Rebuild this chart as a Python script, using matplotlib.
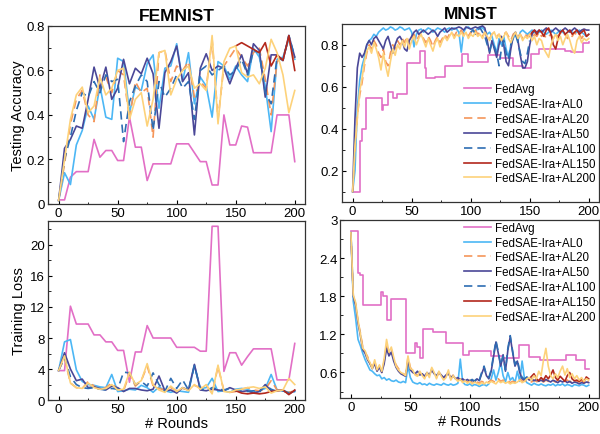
import numpy as np
import matplotlib
matplotlib.use("Agg")
import matplotlib.pyplot as plt
from matplotlib.ticker import AutoMinorLocator, MultipleLocator

plt.rcParams['font.family'] = ['Liberation Sans', 'DejaVu Sans']

labels = ["FedAvg", "FedSAE-Ira+AL0", "FedSAE-Ira+AL20", "FedSAE-Ira+AL50",
          "FedSAE-Ira+AL100", "FedSAE-Ira+AL150", "FedSAE-Ira+AL200"]
colors = ["#e26fc6", "#4cb7f5", "#f5965a", "#4a4797", "#2e6db3", "#b3281c", "#fdd27a"]
styles = ["-", "-", (0, (5, 3)), "-", (0, (5, 3)), "-", "-"]

# ---------------- FEMNIST (every 5 rounds) ----------------
fem_x = list(range(0, 201, 5))
fem_x_late = list(range(150, 201, 5))

fem_acc_fedavg = [0.018, 0.018, 0.12, 0.145, 0.145, 0.145, 0.29, 0.21, 0.24, 0.24, 0.195,
                  0.195, 0.39, 0.255, 0.255, 0.105, 0.18, 0.18, 0.18, 0.18, 0.27, 0.27,
                  0.27, 0.23, 0.19, 0.19, 0.085, 0.085, 0.40, 0.265, 0.265, 0.35, 0.345,
                  0.23, 0.23, 0.23, 0.23, 0.40, 0.40, 0.40, 0.19]
fem_acc_al0 = [0.015, 0.14, 0.087, 0.265, 0.33, 0.44, 0.38, 0.53, 0.39, 0.38, 0.655,
               0.64, 0.41, 0.525, 0.51, 0.63, 0.67, 0.43, 0.61, 0.62, 0.72, 0.55, 0.68,
               0.45, 0.57, 0.53, 0.39, 0.64, 0.62, 0.56, 0.62, 0.58, 0.55, 0.70, 0.66,
               0.53, 0.325, 0.65, 0.66, 0.74, 0.65]
fem_acc_al20 = [0.015, 0.18, 0.36, 0.47, 0.51, 0.40, 0.37, 0.58, 0.57, 0.50, 0.60,
                0.58, 0.38, 0.55, 0.50, 0.52, 0.30, 0.68, 0.69, 0.55, 0.62, 0.60, 0.64,
                0.48, 0.55, 0.52, 0.74, 0.38, 0.62, 0.66, 0.70, 0.66, 0.62, 0.68, 0.70,
                0.56, 0.40, 0.64, 0.66, 0.74, 0.64]
fem_acc_al50 = [0.015, 0.25, 0.29, 0.35, 0.34, 0.47, 0.615, 0.52, 0.615, 0.47, 0.52,
                0.65, 0.54, 0.61, 0.585, 0.655, 0.585, 0.34, 0.59, 0.64, 0.71, 0.55, 0.59,
                0.31, 0.61, 0.675, 0.60, 0.62, 0.61, 0.54, 0.61, 0.67, 0.585, 0.72, 0.69,
                0.48, 0.67, 0.67, 0.645, 0.757, 0.66]
fem_acc_al100 = [0.015, 0.20, 0.30, 0.42, 0.50, 0.48, 0.55, 0.50, 0.58, 0.55, 0.56,
                 0.28, 0.46, 0.53, 0.58, 0.55, 0.33, 0.55, 0.48, 0.52, 0.58, 0.52, 0.55,
                 0.38, 0.60, 0.62, 0.58, 0.60, 0.62, 0.58, 0.60, 0.65, 0.58, 0.69, 0.68,
                 0.50, 0.45, 0.66, 0.645, 0.757, 0.66]
fem_acc_al150 = [0.71, 0.725, 0.71, 0.695, 0.68, 0.725, 0.62, 0.67, 0.645, 0.757, 0.60]
fem_acc_al200 = [0.015, 0.20, 0.38, 0.49, 0.525, 0.41, 0.44, 0.57, 0.49, 0.52, 0.60,
                 0.61, 0.38, 0.47, 0.50, 0.35, 0.47, 0.68, 0.69, 0.49, 0.56, 0.60, 0.62,
                 0.52, 0.54, 0.51, 0.757, 0.36, 0.64, 0.70, 0.71, 0.59, 0.57, 0.58, 0.54,
                 0.61, 0.74, 0.68, 0.58, 0.41, 0.51]

fem_loss_fedavg = [3.8, 3.8, 12.1, 9.8, 9.8, 9.8, 8.4, 8.4, 7.5, 7.5, 6.4, 6.4, 2.3, 6.2,
                   6.2, 9.6, 8.0, 8.0, 8.0, 8.0, 6.8, 6.8, 6.8, 6.8, 6.3, 6.3, 22.4, 22.4,
                   3.7, 6.1, 6.1, 4.5, 5.6, 6.6, 6.6, 6.6, 6.6, 2.6, 2.6, 2.6, 7.3]
fem_loss_al0 = [3.8, 7.5, 7.8, 3.9, 2.4, 2.0, 1.9, 1.7, 1.6, 3.3, 1.1, 1.2, 1.4, 1.3,
                1.9, 1.6, 1.0, 1.7, 1.2, 1.0, 1.2, 1.1, 1.0, 4.5, 1.5, 1.6, 2.8, 1.1,
                1.2, 1.0, 1.4, 1.5, 1.4, 1.0, 1.2, 1.5, 3.3, 1.3, 1.2, 1.0, 1.1]
fem_loss_al20 = [3.8, 5.4, 2.2, 1.6, 1.5, 2.4, 1.8, 1.3, 1.6, 2.2, 1.4, 1.2, 3.4, 1.8,
                 2.5, 4.4, 1.8, 1.5, 1.3, 1.6, 1.2, 1.5, 1.3, 1.9, 1.6, 1.9, 0.9, 4.3,
                 1.2, 1.0, 1.1, 1.4, 1.6, 1.3, 1.2, 1.4, 2.5, 1.3, 1.1, 1.0, 1.2]
fem_loss_al50 = [3.8, 6.1, 4.0, 2.5, 2.7, 1.6, 1.7, 1.5, 1.3, 1.8, 1.6, 1.1, 1.5, 1.5,
                 1.3, 1.2, 1.4, 3.1, 1.2, 1.3, 0.9, 1.6, 1.3, 4.6, 1.3, 1.2, 1.4, 1.3,
                 1.2, 1.6, 1.3, 1.1, 1.2, 0.9, 1.1, 2.0, 1.2, 1.2, 1.3, 0.8, 1.2]
fem_loss_al100 = [3.8, 5.5, 3.0, 2.0, 1.6, 1.5, 1.6, 1.4, 1.3, 1.5, 1.4, 3.6, 3.5, 2.0,
                  2.4, 1.8, 3.5, 2.0, 1.1, 2.8, 1.5, 2.6, 1.3, 4.4, 1.5, 1.2, 1.6, 1.4,
                  1.3, 1.5, 1.2, 1.3, 1.1, 1.2, 1.0, 1.9, 1.4, 1.1, 1.2, 0.9, 1.1]
fem_loss_al150 = [1.2, 0.9, 0.8, 0.9, 0.8, 0.9, 1.1, 1.2, 1.3, 0.7, 1.3]
fem_loss_al200 = [3.8, 5.7, 2.2, 1.6, 1.5, 2.2, 1.6, 1.4, 1.5, 2.0, 1.3, 1.4, 3.6, 2.0,
                  2.5, 4.7, 2.0, 1.3, 1.0, 1.8, 1.1, 1.6, 1.2, 2.0, 1.4, 2.0, 0.8, 4.5,
                  1.1, 1.0, 1.3, 1.4, 1.6, 1.7, 1.5, 1.7, 0.9, 1.2, 1.3, 2.8, 2.0]

# ---------------- MNIST (every 2 rounds) ----------------
mn_x = list(range(0, 201, 2))
mn_x_mid = list(range(100, 151, 2))
mn_x_late = list(range(150, 201, 2))

# FedAvg is piecewise constant: change points and levels
mn_acc_fedavg_x = [0, 6, 8, 11, 25, 26, 30, 34, 38, 46, 57, 61, 62, 70, 78, 93, 98, 115,
                   125, 136, 144, 151, 158, 180, 185, 195, 200]
mn_acc_fedavg = [0.10, 0.34, 0.40, 0.545, 0.49, 0.515, 0.575, 0.545, 0.565, 0.715, 0.77,
                 0.69, 0.64, 0.645, 0.70, 0.757, 0.72, 0.75, 0.735, 0.70, 0.687, 0.757,
                 0.78, 0.77, 0.765, 0.81, 0.815]

mn_acc_al0 = [0.10, 0.20, 0.50, 0.63, 0.70, 0.74, 0.80, 0.82, 0.83, 0.85,
              0.84, 0.86, 0.87, 0.88, 0.87, 0.875, 0.885, 0.88, 0.87, 0.875,
              0.885, 0.88, 0.87, 0.875, 0.88, 0.86, 0.79, 0.85, 0.87, 0.875,
              0.86, 0.87, 0.88, 0.875, 0.86, 0.87, 0.88, 0.875, 0.87, 0.86,
              0.875, 0.88, 0.87, 0.88, 0.875, 0.86, 0.765, 0.86, 0.88, 0.885,
              0.875, 0.87, 0.86, 0.88, 0.885, 0.88, 0.87, 0.85, 0.86, 0.84,
              0.80, 0.76, 0.83, 0.80, 0.84, 0.78, 0.74, 0.80, 0.83, 0.85,
              0.82, 0.86, 0.87, 0.86, 0.85, 0.86, 0.87, 0.86, 0.85, 0.86,
              0.87, 0.86, 0.85, 0.86, 0.87, 0.86, 0.85, 0.86, 0.87, 0.86,
              0.85, 0.86, 0.87, 0.86, 0.855, 0.86, 0.87, 0.86, 0.85, 0.84, 0.85]
mn_acc_al20 = [0.10, 0.30, 0.46, 0.56, 0.62, 0.70, 0.76, 0.80, 0.78, 0.82,
               0.80, 0.76, 0.74, 0.78, 0.72, 0.70, 0.76, 0.80, 0.78, 0.82,
               0.80, 0.83, 0.81, 0.84, 0.80, 0.83, 0.85, 0.82, 0.84, 0.86,
               0.83, 0.81, 0.84, 0.82, 0.79, 0.82, 0.84, 0.81, 0.83, 0.85,
               0.83, 0.85, 0.86, 0.84, 0.86, 0.85, 0.87, 0.85, 0.86, 0.84,
               0.86, 0.85, 0.87, 0.85, 0.86, 0.84, 0.86, 0.85, 0.83, 0.85,
               0.86, 0.84, 0.85, 0.83, 0.85, 0.86, 0.84, 0.82, 0.85, 0.86,
               0.84, 0.85, 0.83, 0.85, 0.84, 0.85, 0.83, 0.85, 0.84, 0.86,
               0.84, 0.85, 0.83, 0.84, 0.85, 0.83, 0.85, 0.84, 0.86, 0.84,
               0.85, 0.83, 0.85, 0.84, 0.86, 0.84, 0.85, 0.83, 0.85, 0.84, 0.85]
mn_acc_al50 = [0.10, 0.45, 0.69, 0.76, 0.74, 0.76, 0.80, 0.82, 0.80, 0.83,
               0.84, 0.82, 0.80, 0.78, 0.82, 0.84, 0.80, 0.76, 0.80, 0.83,
               0.84, 0.82, 0.78, 0.77, 0.82, 0.84, 0.86, 0.87, 0.85, 0.86,
               0.87, 0.86, 0.85, 0.86, 0.87, 0.86, 0.84, 0.86, 0.87, 0.88,
               0.86, 0.87, 0.88, 0.875, 0.88, 0.885, 0.88, 0.87, 0.885, 0.88,
               0.875, 0.88, 0.885, 0.88, 0.885, 0.89, 0.88, 0.82, 0.76, 0.82,
               0.78, 0.74, 0.80, 0.84, 0.80, 0.72, 0.70, 0.78, 0.84, 0.86,
               0.82, 0.75, 0.69, 0.69, 0.72, 0.80, 0.85, 0.87, 0.86, 0.87,
               0.86, 0.87, 0.88, 0.87, 0.86, 0.87, 0.88, 0.87, 0.86, 0.87,
               0.88, 0.87, 0.86, 0.87, 0.88, 0.87, 0.86, 0.87, 0.875, 0.87, 0.87]
mn_acc_al100 = [0.86, 0.87, 0.85, 0.87, 0.88, 0.86, 0.84, 0.80, 0.77, 0.81,
                0.79, 0.76, 0.70, 0.78, 0.82, 0.76, 0.73, 0.80, 0.84, 0.85,
                0.81, 0.76, 0.72, 0.71, 0.76, 0.82]
mn_acc_al150 = [0.84, 0.86, 0.87, 0.85, 0.87, 0.86, 0.84, 0.87, 0.88, 0.85,
                0.80, 0.78, 0.83, 0.86, 0.87, 0.85, 0.86, 0.87, 0.85, 0.86,
                0.87, 0.85, 0.86, 0.87, 0.84, 0.85]
mn_acc_al200 = [0.10, 0.32, 0.45, 0.58, 0.64, 0.72, 0.77, 0.79, 0.76, 0.81,
                0.78, 0.74, 0.68, 0.76, 0.70, 0.65, 0.72, 0.78, 0.75, 0.80,
                0.78, 0.82, 0.79, 0.83, 0.78, 0.82, 0.84, 0.80, 0.83, 0.85,
                0.82, 0.79, 0.83, 0.80, 0.77, 0.81, 0.83, 0.79, 0.82, 0.84,
                0.82, 0.84, 0.86, 0.83, 0.85, 0.84, 0.86, 0.84, 0.86, 0.83,
                0.85, 0.84, 0.86, 0.84, 0.85, 0.83, 0.86, 0.84, 0.82, 0.85,
                0.86, 0.83, 0.85, 0.82, 0.84, 0.86, 0.83, 0.81, 0.84, 0.86,
                0.83, 0.85, 0.82, 0.84, 0.83, 0.85, 0.82, 0.84, 0.80, 0.83,
                0.82, 0.78, 0.76, 0.74, 0.80, 0.83, 0.85, 0.82, 0.84, 0.80,
                0.83, 0.85, 0.82, 0.78, 0.76, 0.82, 0.84, 0.81, 0.83, 0.82, 0.83]

mn_loss_fedavg_x = [0, 6, 8, 10, 25, 27, 30, 34, 46, 54, 56, 58, 61, 69, 80, 94, 99, 118,
                    128, 141, 150, 159, 181, 189, 197, 200]
mn_loss_fedavg = [2.82, 2.17, 2.14, 1.66, 1.86, 1.80, 1.43, 1.75, 0.90, 1.06, 1.00, 0.82,
                  1.29, 1.24, 1.06, 0.87, 0.94, 0.86, 0.82, 1.03, 0.85, 0.80, 0.87, 0.79,
                  0.65, 0.65]
mn_loss_al0 = [2.80, 1.72, 1.45, 1.12, 1.02, 0.90, 0.80, 0.72, 0.64, 0.62,
               0.58, 0.55, 0.56, 0.50, 0.52, 0.48, 0.50, 0.47, 0.46, 0.48,
               0.45, 0.44, 0.46, 0.44, 0.70, 0.52, 0.45, 0.43, 0.42, 0.44,
               0.41, 0.42, 0.40, 0.43, 0.41, 0.40, 0.42, 0.41, 0.40, 0.43,
               0.41, 0.40, 0.42, 0.40, 0.41, 0.43, 0.81, 0.45, 0.41, 0.40,
               0.42, 0.39, 0.41, 0.40, 0.38, 0.40, 0.41, 0.39, 0.42, 0.50,
               0.64, 0.48, 0.60, 0.76, 0.55, 0.45, 0.60, 0.48, 0.52, 0.44,
               0.62, 0.46, 0.78, 0.50, 0.44, 0.42, 0.40, 0.43, 0.41, 0.40,
               0.42, 0.40, 0.39, 0.41, 0.40, 0.42, 0.39, 0.41, 0.40, 0.42,
               0.39, 0.41, 0.40, 0.38, 0.41, 0.40, 0.39, 0.41, 0.40, 0.38, 0.40]
mn_loss_al20 = [2.80, 1.80, 1.68, 1.40, 1.22, 1.00, 0.92, 0.85, 0.74, 0.68,
                0.78, 0.62, 0.70, 0.60, 0.78, 1.05, 0.90, 0.98, 0.80, 0.72,
                0.66, 0.62, 0.58, 0.56, 0.84, 0.68, 0.62, 0.58, 0.55, 0.60,
                0.56, 0.52, 0.58, 0.54, 0.66, 0.58, 0.52, 0.60, 0.55, 0.50,
                0.54, 0.62, 0.50, 0.56, 0.52, 0.48, 0.50, 0.46, 0.49, 0.45,
                0.48, 0.44, 0.47, 0.45, 0.43, 0.46, 0.44, 0.47, 0.45, 0.48,
                0.46, 0.44, 0.50, 0.46, 0.48, 0.45, 0.47, 0.44, 0.46, 0.45,
                0.47, 0.50, 0.46, 0.48, 0.45, 0.47, 0.45, 0.48, 0.46, 0.44,
                0.47, 0.45, 0.48, 0.46, 0.44, 0.47, 0.45, 0.48, 0.46, 0.44,
                0.46, 0.48, 0.45, 0.47, 0.44, 0.46, 0.45, 0.47, 0.44, 0.46, 0.45]
mn_loss_al50 = [2.80, 1.80, 1.66, 1.38, 1.18, 0.96, 0.90, 0.80, 0.74, 0.66,
                0.74, 0.62, 0.68, 0.60, 0.74, 0.98, 0.86, 0.92, 0.78, 0.68,
                0.62, 0.58, 0.56, 0.54, 0.78, 0.64, 0.60, 0.58, 0.62, 0.56,
                0.58, 0.54, 0.60, 0.56, 0.64, 0.58, 0.55, 0.60, 0.56, 0.52,
                0.56, 0.58, 0.52, 0.55, 0.50, 0.52, 0.48, 0.50, 0.47, 0.49,
                0.46, 0.48, 0.45, 0.50, 0.47, 0.58, 0.68, 0.55, 0.50, 0.62,
                0.85, 1.08, 0.90, 0.70, 0.88, 0.62, 0.95, 1.16, 0.92, 0.70,
                0.78, 0.60, 0.50, 0.48, 0.52, 0.48, 0.50, 0.47, 0.49, 0.46,
                0.48, 0.46, 0.49, 0.47, 0.45, 0.48, 0.46, 0.44, 0.47, 0.45,
                0.47, 0.44, 0.46, 0.43, 0.45, 0.44, 0.42, 0.44, 0.43, 0.45, 0.44]
mn_loss_al100 = [0.47, 0.49, 0.46, 0.52, 0.48, 0.60, 0.70, 0.56, 0.52, 0.64,
                 0.88, 1.10, 0.92, 0.72, 0.86, 0.64, 0.98, 1.18, 0.94, 0.72,
                 0.80, 0.62, 0.52, 0.50, 0.53, 0.49]
mn_loss_al150 = [0.50, 0.54, 0.58, 0.50, 0.47, 0.52, 0.48, 0.55, 0.50, 0.56,
                 0.64, 0.52, 0.48, 0.54, 0.50, 0.46, 0.55, 0.60, 0.50, 0.47,
                 0.48, 0.46, 0.50, 0.45, 0.53, 0.50]
mn_loss_al200 = [2.80, 1.82, 1.70, 1.42, 1.20, 0.98, 0.94, 0.82, 0.76, 0.66,
                 0.80, 0.64, 0.72, 0.62, 0.82, 1.12, 0.92, 1.00, 0.84, 0.70,
                 0.64, 0.60, 0.58, 0.55, 0.86, 0.66, 0.64, 0.56, 0.54, 0.62,
                 0.55, 0.50, 0.60, 0.52, 0.68, 0.60, 0.50, 0.62, 0.54, 0.48,
                 0.52, 0.64, 0.48, 0.55, 0.50, 0.46, 0.49, 0.44, 0.47, 0.43,
                 0.46, 0.42, 0.45, 0.43, 0.41, 0.44, 0.42, 0.45, 0.43, 0.46,
                 0.44, 0.42, 0.47, 0.44, 0.46, 0.43, 0.45, 0.42, 0.44, 0.43,
                 0.45, 0.48, 0.44, 0.46, 0.50, 0.52, 0.48, 0.55, 0.50, 0.62,
                 0.55, 0.80, 0.98, 0.70, 0.55, 0.50, 0.58, 0.52, 0.62, 0.70,
                 0.56, 0.66, 0.52, 0.58, 0.50, 0.55, 0.48, 0.52, 0.46, 0.50, 0.48]

fig = plt.figure(figsize=(6.0, 4.35), dpi=100)
ax_fa = fig.add_axes([0.080, 0.529, 0.428, 0.409])
ax_ma = fig.add_axes([0.570, 0.533, 0.428, 0.410])
ax_fl = fig.add_axes([0.080, 0.078, 0.428, 0.412])
ax_ml = fig.add_axes([0.567, 0.083, 0.431, 0.409])

lw = 1.2


def draw(ax, series, fedavg_steps=False):
    for i, (x, y) in enumerate(series):
        kw = dict(color=colors[i], linestyle=styles[i], lw=lw, label=labels[i])
        if i == 0 and fedavg_steps:
            kw['drawstyle'] = 'steps-post'
        ax.plot(x, y, **kw)


draw(ax_fa, [(fem_x, fem_acc_fedavg), (fem_x, fem_acc_al0), (fem_x, fem_acc_al20),
             (fem_x, fem_acc_al50), (fem_x, fem_acc_al100),
             (fem_x_late, fem_acc_al150), (fem_x, fem_acc_al200)])
draw(ax_fl, [(fem_x, fem_loss_fedavg), (fem_x, fem_loss_al0), (fem_x, fem_loss_al20),
             (fem_x, fem_loss_al50), (fem_x, fem_loss_al100),
             (fem_x_late, fem_loss_al150), (fem_x, fem_loss_al200)])
draw(ax_ma, [(mn_acc_fedavg_x, mn_acc_fedavg), (mn_x, mn_acc_al0), (mn_x, mn_acc_al20),
             (mn_x, mn_acc_al50), (mn_x_mid, mn_acc_al100),
             (mn_x_late, mn_acc_al150), (mn_x, mn_acc_al200)], fedavg_steps=True)
draw(ax_ml, [(mn_loss_fedavg_x, mn_loss_fedavg), (mn_x, mn_loss_al0), (mn_x, mn_loss_al20),
             (mn_x, mn_loss_al50), (mn_x_mid, mn_loss_al100),
             (mn_x_late, mn_loss_al150), (mn_x, mn_loss_al200)], fedavg_steps=True)

for ax in (ax_fa, ax_ma, ax_fl, ax_ml):
    ax.set_xlim(-9, 208.5)
    ax.xaxis.set_major_locator(MultipleLocator(50))
    ax.xaxis.set_minor_locator(AutoMinorLocator(2))
    ax.yaxis.set_minor_locator(AutoMinorLocator(2))
    ax.tick_params(which='both', direction='in', labelsize=9.5, pad=2)
    ax.tick_params(which='major', length=3)
    ax.tick_params(which='minor', length=1.8)
    for s in ax.spines.values():
        s.set_linewidth(0.9)
        s.set_color('#333333')

ax_fa.set_ylim(0, 0.8)
ax_fa.set_yticks([0, 0.2, 0.4, 0.6, 0.8])
ax_fa.set_yticklabels(['0', '0.2', '0.4', '0.6', '0.8'])
ax_ma.set_ylim(0.05, 0.9)
ax_ma.set_yticks([0.2, 0.4, 0.6, 0.8])
ax_ma.yaxis.set_minor_locator(MultipleLocator(0.1))
ax_fl.set_ylim(0, 23.1)
ax_fl.set_yticks([0, 4, 8, 12, 16, 20])
ax_ml.set_ylim(0.2, 3.0)
ax_ml.set_yticks([0.6, 1.2, 1.8, 2.4, 3.0])
ax_ml.set_yticklabels(['0.6', '1.2', '1.8', '2.4', '3'])
ax_ml.yaxis.set_minor_locator(MultipleLocator(0.3))

ax_fa.set_title("FEMNIST", fontsize=12.5, fontweight='bold', pad=4)
ax_ma.set_title("MNIST", fontsize=12.5, fontweight='bold', pad=4)
ax_fa.set_ylabel("Testing Accuracy", fontsize=10.5, labelpad=1)
ax_fl.set_ylabel("Training Loss", fontsize=10.5, labelpad=3)
ax_fl.set_xlabel("# Rounds", fontsize=10.5, labelpad=1)
ax_ml.set_xlabel("# Rounds", fontsize=10.5, labelpad=1)

leg_kw = dict(frameon=False, fontsize=8.3, handlelength=2.4, handletextpad=0.3,
              labelspacing=0.25, borderpad=0.1, borderaxespad=0.2)
ax_ma.legend(loc='lower right', bbox_to_anchor=(1.0, 0.08), **leg_kw)
ax_ml.legend(loc='upper right', bbox_to_anchor=(1.0, 1.01), **leg_kw)

fig.savefig("out.png", dpi=100)
